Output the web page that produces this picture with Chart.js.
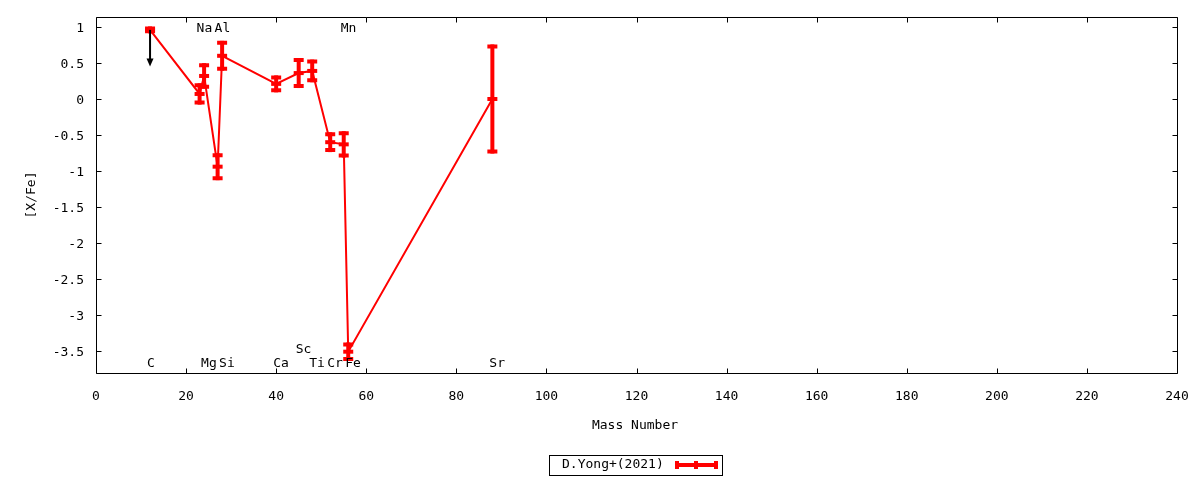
<!DOCTYPE html>
<html>
<head>
<meta charset="utf-8">
<script src="https://cdn.jsdelivr.net/npm/chart.js@4/dist/chart.umd.min.js"></script>
<style>
  html, body { margin: 0; padding: 0; background: #fff; }
  #wrap { width: 1200px; height: 480px; }
</style>
</head>
<body>
<div id="wrap"><canvas id="c" width="1200" height="480"></canvas></div>
<script>
// ---- data ----
const elements    = ['C', 'Na', 'Mg', 'Al', 'Si', 'Ca', 'Sc', 'Ti', 'Cr', 'Mn', 'Fe', 'Sr'];
const massNumbers = [12, 23, 24, 27, 28, 40, 45, 48, 52, 55, 56, 88];
const xfeValues   = [0.96, 0.07, 0.32, -0.94, 0.60, 0.21, 0.36, 0.39, -0.60, -0.63, -3.51, 0.00];
const xfeErrors   = [0.02, 0.12, 0.15, 0.16, 0.18, 0.09, 0.18, 0.13, 0.11, 0.155, 0.10, 0.73];
const upperLimits = [true, false, false, false, false, false, false, false, false, false, false, false];
const upperLimitTo = 0.45;
const labelYValues = [-3.65, 1.0, -3.65, 1.0, -3.65, -3.65, -3.45, -3.65, -3.65, 1.0, -3.65, -3.65];
const xTickValues = [0, 20, 40, 60, 80, 100, 120, 140, 160, 180, 200, 220, 240];
const yTickValues = [1, 0.5, 0, -0.5, -1, -1.5, -2, -2.5, -3, -3.5];
const seriesName = 'D.Yong+(2021)';
const xTitle = 'Mass Number';
const yTitle = '[X/Fe]';

const FONT = '"DejaVu Sans Mono", monospace';
const RED = '#ff0000';

const points = massNumbers.map((m, i) => ({ x: m, y: xfeValues[i] }));

function zeroPad(s) { s.paddingTop = 0; s.paddingBottom = 0; s.paddingLeft = 0; s.paddingRight = 0; }

const gnuplotPlugin = {
  id: 'gnuplotStyle',
  beforeDatasetsDraw(chart) {
    const { ctx, chartArea: a, scales } = chart;
    ctx.save();
    ctx.strokeStyle = '#000';
    ctx.lineWidth = 1;
    ctx.beginPath();
    const L = Math.round(a.left) + 0.5, R = Math.round(a.right) + 0.5;
    const T = Math.round(a.top) + 0.5, B = Math.round(a.bottom) + 0.5;
    ctx.moveTo(L, T); ctx.lineTo(R, T); ctx.lineTo(R, B); ctx.lineTo(L, B); ctx.closePath();
    const tl = 5;
    scales.x.ticks.forEach(t => {
      const px = Math.round(scales.x.getPixelForValue(t.value)) + 0.5;
      ctx.moveTo(px, B); ctx.lineTo(px, B - tl);
      ctx.moveTo(px, T); ctx.lineTo(px, T + tl);
    });
    scales.y.ticks.forEach(t => {
      const py = Math.round(scales.y.getPixelForValue(t.value)) + 0.5;
      ctx.moveTo(L, py); ctx.lineTo(L + tl, py);
      ctx.moveTo(R, py); ctx.lineTo(R - tl, py);
    });
    ctx.stroke();
    ctx.restore();
  },
  afterDatasetsDraw(chart) {
    const { ctx, scales } = chart;
    const xs = scales.x, ys = scales.y;
    ctx.save();
    // error bars
    ctx.strokeStyle = RED;
    ctx.lineCap = 'butt';
    massNumbers.forEach((m, i) => {
      const px = xs.getPixelForValue(m);
      const pTop = ys.getPixelForValue(xfeValues[i] + xfeErrors[i]);
      const pBot = ys.getPixelForValue(xfeValues[i] - xfeErrors[i]);
      ctx.lineWidth = 4;
      ctx.beginPath();
      ctx.moveTo(px, pTop - 2); ctx.lineTo(px, pBot + 2);
      ctx.stroke();
      ctx.beginPath();
      ctx.moveTo(px - 5, pTop); ctx.lineTo(px + 5, pTop);
      ctx.moveTo(px - 5, pBot); ctx.lineTo(px + 5, pBot);
      ctx.stroke();
    });
    // upper-limit arrows
    ctx.strokeStyle = '#000';
    ctx.fillStyle = '#000';
    massNumbers.forEach((m, i) => {
      if (!upperLimits[i]) return;
      const px = xs.getPixelForValue(m);
      const p0 = ys.getPixelForValue(xfeValues[i]);
      const p1 = ys.getPixelForValue(upperLimitTo);
      ctx.lineWidth = 2;
      ctx.beginPath();
      ctx.moveTo(px, p0); ctx.lineTo(px, p1 - 6);
      ctx.stroke();
      ctx.beginPath();
      ctx.moveTo(px - 3.5, p1 - 8); ctx.lineTo(px + 3.5, p1 - 8); ctx.lineTo(px, p1); ctx.closePath();
      ctx.fill();
    });
    ctx.restore();
  },
  afterDraw(chart) {
    const { ctx, scales } = chart;
    const xs = scales.x, ys = scales.y;
    ctx.save();
    ctx.font = '13px ' + FONT;
    ctx.fillStyle = '#000';
    // element labels
    ctx.textAlign = 'left';
    ctx.textBaseline = 'middle';
    elements.forEach((el, i) => {
      ctx.fillText(el, xs.getPixelForValue(massNumbers[i]) - 3, ys.getPixelForValue(labelYValues[i]) + 2);
    });
    // axis titles
    ctx.textAlign = 'center';
    ctx.fillText(xTitle, 635, 426);
    ctx.save();
    ctx.translate(32, 195);
    ctx.rotate(-Math.PI / 2);
    ctx.fillText(yTitle, 0, 0);
    ctx.restore();
    // legend
    ctx.strokeStyle = '#000';
    ctx.lineWidth = 1;
    ctx.strokeRect(549.5, 455.5, 173, 20);
    ctx.textAlign = 'left';
    ctx.fillText(seriesName, 562, 465);
    ctx.strokeStyle = RED;
    ctx.lineWidth = 4;
    ctx.beginPath();
    ctx.moveTo(675, 465); ctx.lineTo(718, 465);
    ctx.stroke();
    ctx.beginPath();
    [677, 696, 716].forEach(x => { ctx.moveTo(x, 461); ctx.lineTo(x, 469); });
    ctx.stroke();
    ctx.restore();
  }
};

new Chart(document.getElementById('c'), {
  type: 'scatter',
  data: {
    datasets: [{
      label: seriesName,
      data: points,
      showLine: true,
      borderColor: RED,
      backgroundColor: RED,
      borderWidth: 2,
      pointStyle: 'line',
      pointRadius: 5,
      pointBorderWidth: 4,
      pointBorderColor: RED,
      pointHoverRadius: 5
    }]
  },
  options: {
    responsive: false,
    animation: false,
    devicePixelRatio: 1,
    events: [],
    layout: { padding: { left: 0, top: 17, right: 23, bottom: 0 } },
    plugins: { legend: { display: false }, tooltip: { enabled: false } },
    scales: {
      x: {
        type: 'linear',
        min: 0, max: 240,
        afterFit(s) { s.height = 107; zeroPad(s); },
        afterBuildTicks(s) { s.ticks = xTickValues.map(v => ({ value: v })); },
        grid: { display: false, drawTicks: false },
        border: { display: false },
        ticks: {
          padding: 16,
          color: '#000',
          font: { family: FONT, size: 13 },
          maxRotation: 0,
          autoSkip: false,
          callback: v => String(v)
        }
      },
      y: {
        type: 'linear',
        min: -3.806, max: 1.139,
        afterFit(s) { s.width = 96; zeroPad(s); },
        afterBuildTicks(s) { s.ticks = yTickValues.map(v => ({ value: v })); },
        grid: { display: false, drawTicks: false },
        border: { display: false },
        ticks: {
          padding: 12,
          labelOffset: 1.5,
          color: '#000',
          font: { family: FONT, size: 13 },
          autoSkip: false,
          callback: v => String(v)
        }
      }
    }
  },
  plugins: [gnuplotPlugin]
});
</script>
</body>
</html>
